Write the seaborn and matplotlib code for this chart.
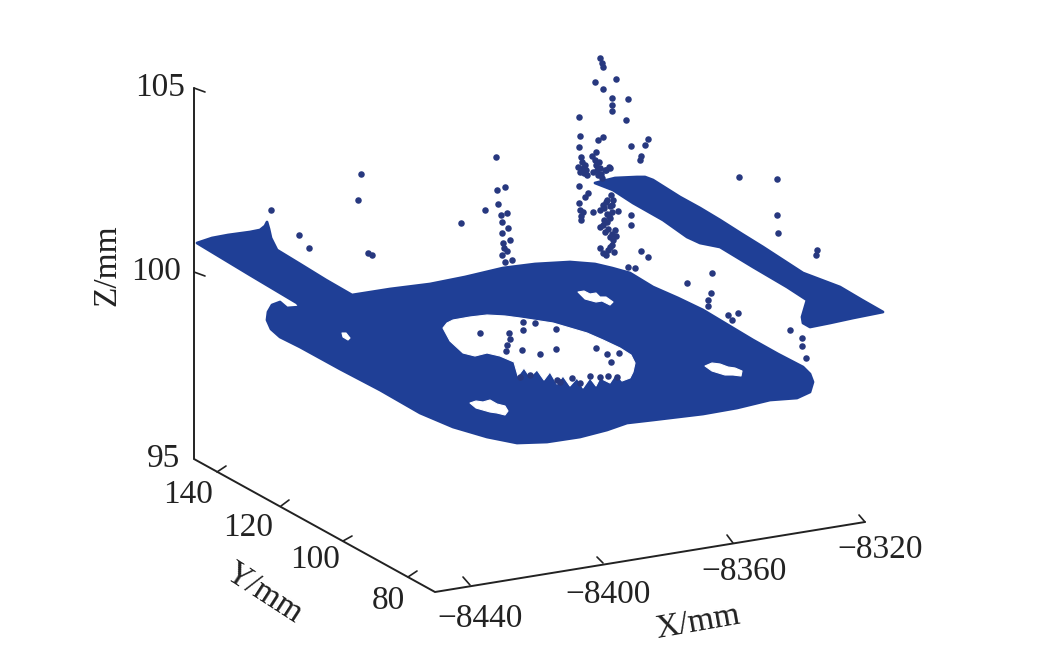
import matplotlib
matplotlib.use('Agg')
import matplotlib.pyplot as plt
import seaborn as sns
import pandas as pd

sns.set_style('white')
plt.rcParams['font.family'] = ['Liberation Serif', 'DejaVu Serif']

BLUE = '#1f3f96'
DOT = '#27387f'
INK = '#222222'

plate_x = [197, 212, 228, 250, 260, 265, 267, 269, 271, 277, 300, 326, 352, 390, 430, 465, 503, 535, 570, 595, 612, 630,
           653, 678, 703, 728, 753, 778, 803, 810, 813, 810, 797, 770, 737, 703, 653, 627, 607, 580, 547, 517, 487, 453,
           420, 380, 340, 300, 280, 271, 267, 268, 272, 280, 287, 300, 297, 250]
plate_y = [243, 238, 235, 232, 230, 226, 222, 229, 238, 250, 264, 280, 295, 289, 284, 277, 268, 264, 262, 264, 268, 273,
           287, 298, 310, 325, 340, 354, 367, 374, 382, 392, 398, 400, 408, 414, 420, 423, 430, 437, 442, 443, 437, 427,
           413, 390, 369, 347, 337, 329, 320, 312, 305, 302, 308, 307, 303, 275]

arm_x = [595, 615, 637, 645, 653, 680, 700, 720, 742, 763, 783, 803, 840, 862, 883, 853, 830, 810, 803, 802, 807, 787,
         753, 720, 700, 687, 663, 633, 613]
arm_y = [183, 178, 177, 177, 180, 197, 208, 220, 234, 247, 260, 273, 287, 300, 312, 318, 323, 327, 323, 317, 300, 287,
         267, 247, 243, 237, 220, 203, 190]

hole_x = [443, 447, 453, 470, 487, 505, 520, 553, 587, 603, 620, 631, 635, 633, 630, 622, 616, 610, 600, 596, 590, 583,
          577, 570, 563, 557, 550, 544, 537, 530, 524, 518, 514, 500, 487, 475, 463, 450]
hole_y = [328, 323, 320, 317, 315, 316, 318, 323, 333, 340, 348, 355, 363, 372, 378, 381, 374, 383, 378, 386, 378, 388,
          378, 386, 376, 384, 372, 380, 370, 377, 368, 376, 362, 356, 353, 356, 353, 341]

slot_top_x = [578, 584, 590, 596, 600, 606, 613, 610, 602, 596, 585]
slot_top_y = [292, 291, 294, 293, 297, 297, 302, 305, 301, 302, 299]
slot_right_x = [705, 712, 720, 728, 735, 742, 741, 733, 725, 712]
slot_right_y = [366, 363, 364, 367, 368, 371, 376, 375, 375, 371]
slot_low_x = [470, 476, 483, 490, 497, 505, 508, 505, 497, 490, 476]
slot_low_y = [403, 401, 402, 400, 404, 406, 411, 415, 413, 412, 408]
slot_left_x = [342, 346, 350, 348, 343]
slot_left_y = [333, 333, 338, 340, 337]

noise_x = [600, 602, 603, 616, 595, 603, 612, 612, 612, 628, 579, 626, 580, 598, 603, 648, 645, 631, 641, 640, 579, 596,
           581, 582, 583, 584, 595, 596, 597, 598, 610, 606, 579, 588, 585, 579, 580, 581, 607, 604, 609, 600, 612, 593,
           618, 631, 631, 615, 610, 608, 603, 612, 641, 648, 628, 635, 712, 687, 711, 708, 708, 728, 732, 738, 790, 802,
           802, 806, 739, 777, 777, 778, 817, 816, 271, 299, 309, 368, 372, 461, 485, 498, 501, 507, 502, 510, 502, 505,
           512, 358, 496, 361, 505, 497, 502, 508, 503, 504, 507, 480, 522, 540, 556, 556, 535, 523, 523, 596, 607, 619,
           611, 617, 507, 509, 510, 506, 520, 530, 557, 580, 600, 608, 560, 572, 590,
           # denser clumps above the plate
           578, 580, 585, 586, 587, 592, 593, 599, 600, 601, 602, 605, 609, 611, 613, 603, 606, 610, 612, 600, 604, 607,
           607, 603, 610, 605, 613, 616, 583, 581, 608, 612, 610, 614, 606, 600]
noise_y = [58, 63, 67, 79, 82, 89, 98, 105, 111, 99, 117, 120, 136, 140, 137, 139, 145, 146, 156, 160, 147, 152,
           157, 162, 168, 173, 160, 165, 170, 175, 168, 170, 186, 193, 197, 203, 210, 220, 200, 208, 216, 227, 205, 212,
           211, 215, 225, 230, 237, 250, 253, 245, 251, 257, 267, 268, 273, 283, 293, 300, 306, 315, 320, 313, 330, 338,
           346, 358, 177, 179, 215, 233, 250, 255, 210, 235, 248, 253, 255, 223, 210, 204, 215, 213, 233, 240, 255, 262,
           260, 200, 157, 174, 187, 190, 222, 228, 243, 248, 251, 333, 350, 354, 349, 329, 323, 322, 330, 348, 354, 353,
           362, 377, 345, 333, 339, 351, 377, 375, 380, 383, 377, 376, 382, 378, 376,
           167, 172, 165, 170, 175, 156, 172, 162, 168, 174, 178, 170, 167, 195, 200, 205, 202, 206, 212, 210, 220, 214,
           222, 225, 218, 232, 240, 236, 212, 216, 229, 234, 247, 252, 255, 248]

axis_x = [194, 194, 435, 865]
axis_y = [88, 459, 592, 522]

z_ticks = [105, 100, 95]
z_tick_x = [[194, 205], [194, 205]]
z_tick_y = [[88, 92], [272, 276]]
z_label_x = [160, 156, 163]
z_label_y = [88, 272, 459]

y_ticks = [140, 120, 100, 80]
y_tick_x = [[217, 226], [281, 289], [343, 352], [408, 417]]
y_tick_y = [[472, 466], [506, 500], [541, 536], [577, 571]]
y_label_x = [188, 248, 315, 388]
y_label_y = [495, 528, 560, 601]

x_ticks = [-8440, -8400, -8360, -8320]
x_tick_x = [[463, 470], [597, 603], [727, 733], [859, 865]]
x_tick_y = [[577, 585], [557, 563], [535, 543], [515, 522]]
x_label_x = [480, 608, 744, 880]
x_label_y = [619, 595, 572, 550]

fig = plt.figure(figsize=(10.41, 6.64), dpi=100)
ax = fig.add_axes([0, 0, 1, 1])

# point cloud body
for xs, ys in [(plate_x, plate_y), (arm_x, arm_y)]:
    ax.fill(xs, ys, color=BLUE, lw=2, joinstyle='round', zorder=2)
for xs, ys in [(hole_x, hole_y), (slot_top_x, slot_top_y), (slot_right_x, slot_right_y),
               (slot_low_x, slot_low_y), (slot_left_x, slot_left_y)]:
    ax.fill(xs, ys, color='white', lw=0.8, joinstyle='round', zorder=3)

# stray points
noise = pd.DataFrame({'x': noise_x, 'y': noise_y})
sns.scatterplot(data=noise, x='x', y='y', ax=ax, color=DOT, s=22, linewidth=0, zorder=4, legend=False)
ax.set_xlim(0, 1041)
ax.set_ylim(664, 0)
ax.axis('off')

# axes frame
ax.plot(axis_x, axis_y, color=INK, lw=1.4, zorder=5, solid_joinstyle='miter')
for tx, ty in zip(z_tick_x + y_tick_x + x_tick_x, z_tick_y + y_tick_y + x_tick_y):
    ax.plot(tx, ty, color=INK, lw=1.2, zorder=5)

fs = 24
for val, x, y in zip(z_ticks, z_label_x, z_label_y):
    ax.text(x, y, str(val), fontsize=fs, color=INK, ha='center', va='center')
for val, x, y in zip(y_ticks, y_label_x, y_label_y):
    ax.text(x, y, str(val), fontsize=fs, color=INK, ha='center', va='center')
for val, x, y in zip(x_ticks, x_label_x, x_label_y):
    ax.text(x, y, '\u2212' + str(abs(val)), fontsize=fs, color=INK, ha='center', va='center')

ax.text(107, 265, 'Z/mm', fontsize=fs, color=INK, rotation=90, ha='center', va='center')
ax.text(264, 593, 'Y/mm', fontsize=fs, color=INK, rotation=-33, ha='center', va='center', rotation_mode='anchor')
ax.text(698, 622, 'X/mm', fontsize=fs, color=INK, rotation=10, ha='center', va='center', rotation_mode='anchor')

fig.savefig('out.png', dpi=100, facecolor='white')
